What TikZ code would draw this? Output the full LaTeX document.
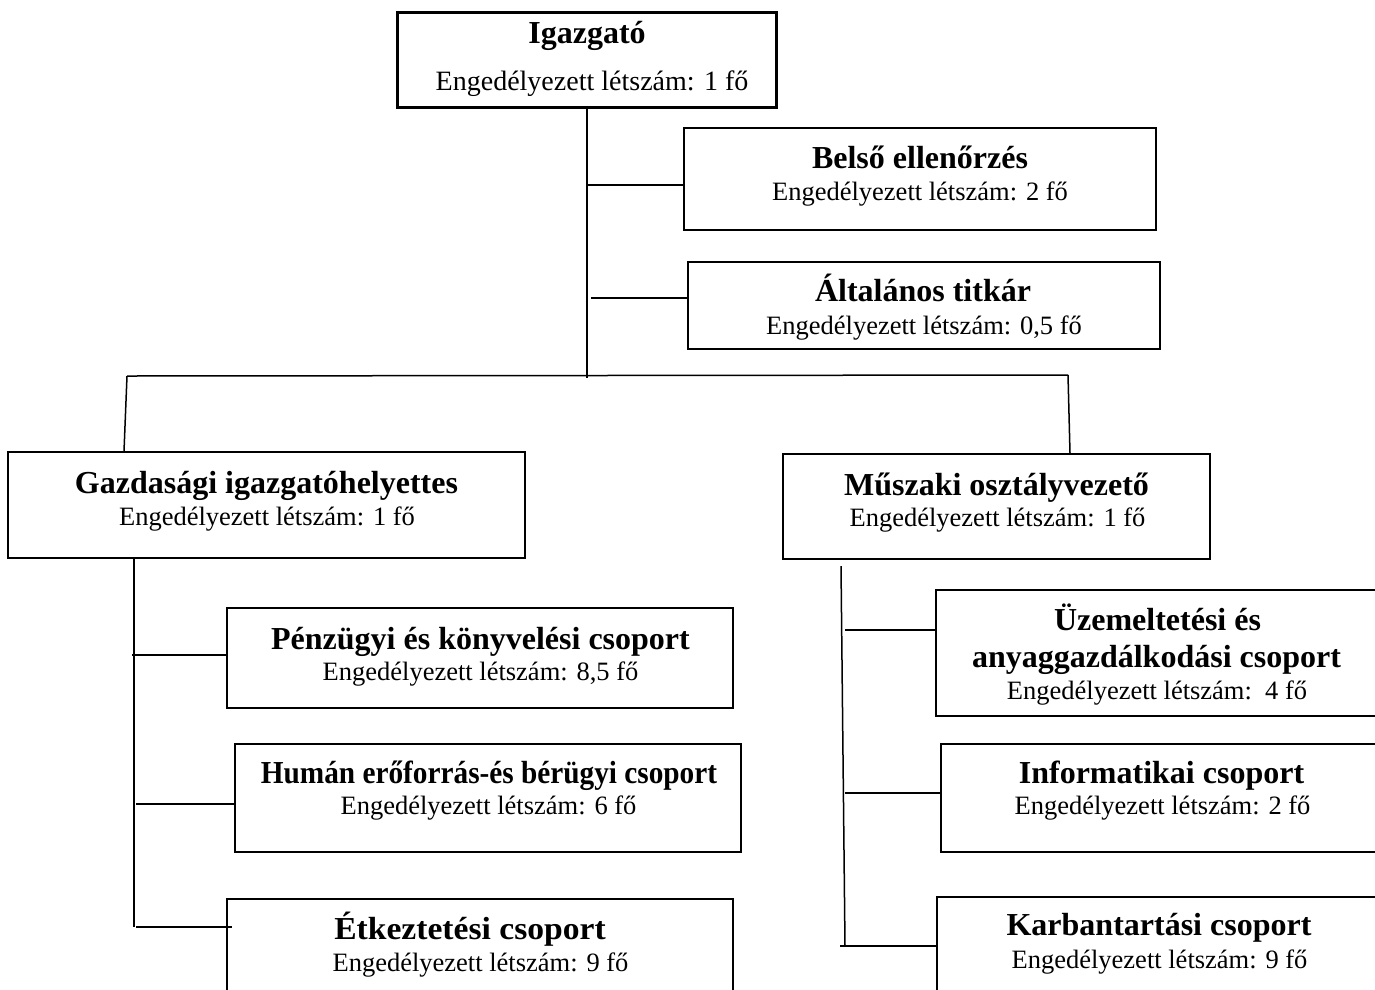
\documentclass[tikz,border=0pt]{standalone}
\usepackage{fontspec}
\setmainfont{Liberation Serif}
\begin{document}
\begin{tikzpicture}[x=1pt,y=-1pt,
  box/.style={draw=black,line width=1.5pt,inner sep=0pt,rectangle},
  bigbox/.style={box,line width=3pt},
  ttl/.style={anchor=base,inner sep=0pt,font=\fontsize{32}{38}\selectfont\bfseries},
  sub/.style={anchor=base,inner sep=0pt,font=\fontsize{26.5}{32}\selectfont},
  bigsub/.style={sub,font=\fontsize{28}{34}\selectfont},
  conn/.style={draw=black,line width=1.5pt}]
\useasboundingbox (0,0) rectangle (1375,989);
\clip (0,0) rectangle (1375,989);
\fill[white] (0,0) rectangle (1375,989);

% boxes
\node[bigbox,minimum width=379pt,minimum height=95pt] (igaz) at (586.5,59.5) {};
\node[box,minimum width=472pt,minimum height=102pt] (belso) at (920,179) {};
\node[box,minimum width=472pt,minimum height=87pt] (alt) at (924,305.5) {};
\node[box,minimum width=517pt,minimum height=106pt] (gazd) at (266.5,505) {};
\node[box,minimum width=427pt,minimum height=105pt] (musz) at (996.5,506.5) {};
\node[box,minimum width=506pt,minimum height=100pt] (penz) at (480,658) {};
\node[box,minimum width=506pt,minimum height=108pt] (human) at (488,798) {};
\node[box,minimum width=506pt,minimum height=112pt] (etk) at (480,955) {};
\node[box,minimum width=464pt,minimum height=126pt] (uzem) at (1168,653) {};
\node[box,minimum width=459pt,minimum height=108pt] (info) at (1170.5,798) {};
\node[box,minimum width=463pt,minimum height=114pt] (karb) at (1168.5,954) {};

% texts
\node[ttl] (igazT) at (587,43) {Igazgató};
\node[bigsub] (igazS) at (592,90) {Engedélyezett létszám: 1 fő};
\node[ttl] (belsoT) at (920,168) {Belső ellenőrzés};
\node[sub] (belsoS) at (920,200) {Engedélyezett létszám: 2 fő};
\node[ttl] (altT) at (923,301) {Általános titkár};
\node[sub] (altS) at (924,334) {Engedélyezett létszám: 0,5 fő};
\node[ttl] (gazdT) at (266.5,493) {Gazdasági igazgatóhelyettes};
\node[sub] (gazdS) at (267,525) {Engedélyezett létszám: 1 fő};
\node[ttl] (muszT) at (996.5,495) {Műszaki osztályvezető};
\node[sub] (muszS) at (997.5,526) {Engedélyezett létszám: 1 fő};
\node[ttl] (penzT) at (480.5,649) {Pénzügyi és könyvelési csoport};
\node[sub] (penzS) at (480.5,680) {Engedélyezett létszám: 8,5 fő};
\node[ttl] (humanT) at (489,783) {\scalebox{0.915}[1]{Humán erőforrás-és bérügyi csoport}};
\node[sub] (humanS) at (488.5,814) {Engedélyezett létszám: 6 fő};
\node[ttl] (etkT) at (470,939) {\scalebox{1.05}[1]{Étkeztetési csoport}};
\node[sub] (etkS) at (480.5,971) {Engedélyezett létszám: 9 fő};
\node[ttl] (uzemT1) at (1157.5,630) {Üzemeltetési és};
\node[ttl] (uzemT2) at (1156.5,667) {anyaggazdálkodási csoport};
\node[sub] (uzemS) at (1157,699) {Engedélyezett létszám:~~4 fő};
\node[ttl] (infoT) at (1161.5,783) {Informatikai csoport};
\node[sub] (infoS) at (1162.5,814) {Engedélyezett létszám: 2 fő};
\node[ttl] (karbT) at (1159,935) {Karbantartási csoport};
\node[sub] (karbS) at (1159.5,968) {Engedélyezett létszám: 9 fő};

% junction coordinates
\coordinate (t1) at (587,185);
\coordinate (t2) at (591,298);
\coordinate (tb) at (587,378);
\coordinate (hl) at (127,376);
\coordinate (hr) at (1068,375);
\coordinate (gl) at (124,452);
\coordinate (ml) at (1070,454);
\coordinate (g0) at (134,558);
\coordinate (g1) at (132,655);
\coordinate (g2) at (136,804);
\coordinate (g3) at (136,927);
\coordinate (gend) at (134,927);
\coordinate (g3e) at (232,927);
\coordinate (m0) at (841,566);
\coordinate (m1) at (845,630);
\coordinate (m2) at (845,793);
\coordinate (m3) at (845,946);
\coordinate (m3s) at (840,946);

% connectors
\draw[conn] (igaz.south -| tb) -- (tb);
\draw[conn] (t1) -- (belso.west |- t1);
\draw[conn] (t2) -- (alt.west |- t2);
\draw[conn] (hl) -- (hr);
\draw[conn] (hl) -- (gazd.north -| gl);
\draw[conn] (hr) -- (musz.north -| ml);
\draw[conn] (g0) -- (gend);
\draw[conn] (g1) -- (penz.west |- g1);
\draw[conn] (g2) -- (human.west |- g2);
\draw[conn] (g3) -- (g3e);
\draw[conn] (m0) -- (m3);
\draw[conn] (m1) -- (uzem.west |- m1);
\draw[conn] (m2) -- (info.west |- m2);
\draw[conn] (m3s) -- (karb.west |- m3s);
\end{tikzpicture}
\end{document}
